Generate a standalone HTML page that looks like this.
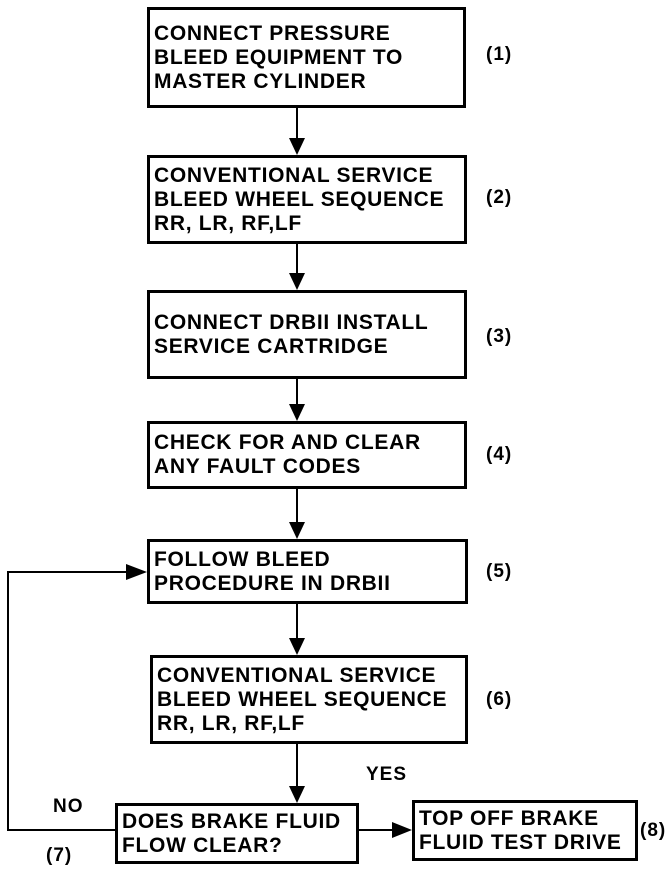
<!DOCTYPE html>
<html><head><style>
body{margin:0;width:672px;height:876px;background:#fff;position:relative;overflow:hidden;font-family:"Liberation Sans",Arial,sans-serif;font-weight:bold;color:#000}
.b{position:absolute;border:3px solid #000;box-sizing:border-box;font-size:21px;letter-spacing:0.7px;line-height:24px;padding-left:4px;display:flex;flex-direction:column;justify-content:center;white-space:nowrap}
.l{position:absolute;font-size:19px;letter-spacing:1px}
svg{position:absolute;left:0;top:0}
</style></head><body>
<svg width="672" height="876">
<g stroke="#000" stroke-width="2" fill="none">
<line x1="297" y1="107" x2="297" y2="140"/>
<line x1="297" y1="243" x2="297" y2="275"/>
<line x1="297" y1="378" x2="297" y2="406"/>
<line x1="297" y1="488" x2="297" y2="524"/>
<line x1="297" y1="603" x2="297" y2="640"/>
<line x1="297" y1="743" x2="297" y2="788"/>
<polyline points="115,830 8,830 8,572 128,572"/>
<line x1="358" y1="830" x2="398" y2="830"/>
</g>
<g fill="#000">
<polygon points="289,138 305,138 297,155"/>
<polygon points="289,273 305,273 297,290"/>
<polygon points="289,404 305,404 297,421"/>
<polygon points="289,522 305,522 297,539"/>
<polygon points="289,638 305,638 297,655"/>
<polygon points="289,786 305,786 297,803"/>
<polygon points="126,564 126,580 147,572"/>
<polygon points="392,822 392,838 412,830"/>
</g>
</svg>
<div class="b" style="left:147px;top:7px;width:319px;height:101px">CONNECT PRESSURE<br>BLEED EQUIPMENT TO<br>MASTER CYLINDER</div>
<div class="b" style="left:147px;top:155px;width:320px;height:89px">CONVENTIONAL SERVICE<br>BLEED WHEEL SEQUENCE<br>RR, LR, RF,LF</div>
<div class="b" style="left:147px;top:290px;width:320px;height:89px">CONNECT DRBII INSTALL<br>SERVICE CARTRIDGE</div>
<div class="b" style="left:147px;top:421px;width:320px;height:68px">CHECK FOR AND CLEAR<br>ANY FAULT CODES</div>
<div class="b" style="left:147px;top:539px;width:321px;height:65px">FOLLOW BLEED<br>PROCEDURE IN DRBII</div>
<div class="b" style="left:150px;top:655px;width:318px;height:89px">CONVENTIONAL SERVICE<br>BLEED WHEEL SEQUENCE<br>RR, LR, RF,LF</div>
<div class="b" style="left:115px;top:803px;width:244px;height:61px">DOES BRAKE FLUID<br>FLOW CLEAR?</div>
<div class="b" style="left:412px;top:800px;width:226px;height:61px">TOP OFF BRAKE<br>FLUID TEST DRIVE</div>
<div class="l" style="left:486px;top:44px">(1)</div>
<div class="l" style="left:486px;top:187px">(2)</div>
<div class="l" style="left:486px;top:326px">(3)</div>
<div class="l" style="left:486px;top:444px">(4)</div>
<div class="l" style="left:486px;top:561px">(5)</div>
<div class="l" style="left:486px;top:689px">(6)</div>
<div class="l" style="left:46px;top:845px">(7)</div>
<div class="l" style="left:640px;top:820px">(8)</div>
<div class="l" style="left:366px;top:764px">YES</div>
<div class="l" style="left:53px;top:796px">NO</div>
</body></html>
